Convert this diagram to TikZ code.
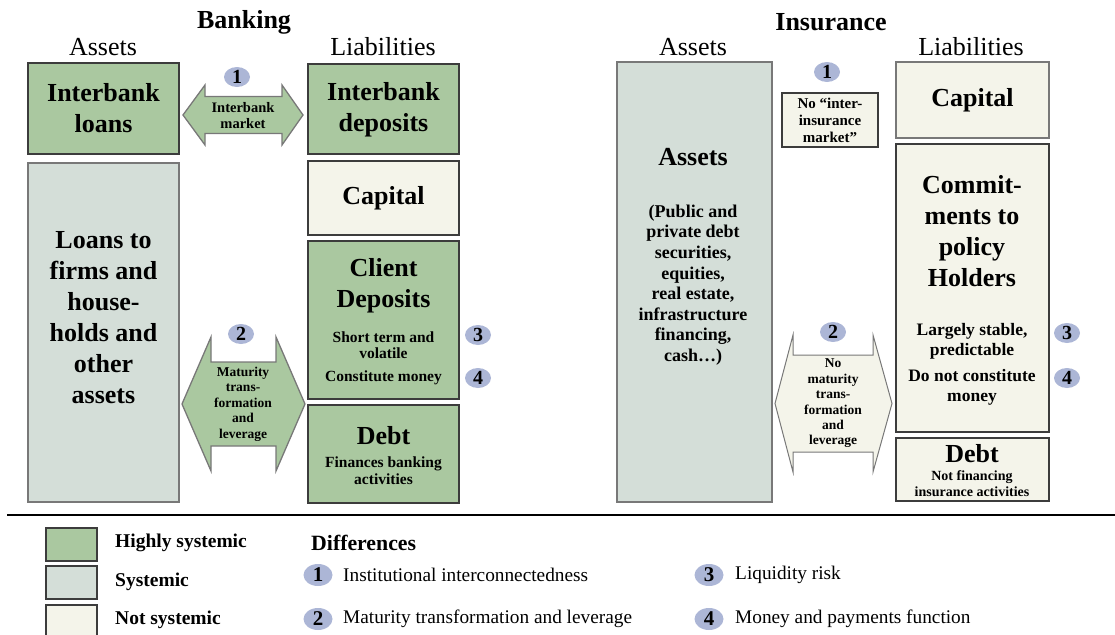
\documentclass[tikz,border=0pt]{standalone}
\usepackage{fontspec}
\setmainfont{Liberation Serif}
\usetikzlibrary{shapes.geometric}

\definecolor{hisysgreen}{RGB}{170,200,160}
\definecolor{sysgray}{RGB}{212,222,216}
\definecolor{nosyscream}{RGB}{244,244,234}
\definecolor{badgeblue}{RGB}{172,182,214}
\definecolor{boxline}{RGB}{60,60,60}
\definecolor{softline}{RGB}{120,120,120}

\tikzset{
  box/.style={draw=boxline, line width=1.3pt, inner sep=0pt},
  hisys/.style={box, fill=hisysgreen},
  sys/.style={box, draw=softline, fill=sysgray},
  nosys/.style={box, fill=nosyscream},
  big/.style={font=\bfseries\fontsize{26}{31}\selectfont, align=center, inner sep=0pt},
  mid/.style={font=\bfseries\fontsize{17.5}{20}\selectfont, align=center, inner sep=0pt},
  small/.style={font=\bfseries\fontsize{15.5}{16.5}\selectfont, align=center, inner sep=0pt},
  tiny/.style={font=\bfseries\fontsize{13.5}{15.4}\selectfont, align=center, inner sep=0pt},
  badge/.style={ellipse, fill=badgeblue, minimum width=26pt, minimum height=20pt,
    inner sep=0pt, font=\bfseries\fontsize{20}{20}\selectfont},
  legbadge/.style={badge, minimum width=29pt, minimum height=22pt,
    font=\bfseries\fontsize{21}{21}\selectfont},
  head/.style={font=\fontsize{26}{26}\selectfont, inner sep=0pt},
  sidetitle/.style={font=\bfseries\fontsize{26}{26}\selectfont, inner sep=0pt},
  legtxt/.style={anchor=west, inner sep=0pt},
  legkey/.style={legtxt, font=\bfseries\fontsize{19.5}{19.5}\selectfont},
  legdiff/.style={legtxt, font=\fontsize{19.3}{19.3}\selectfont},
}

% double headed block arrow: style, left tip, left neck, right neck, right tip, mid y, head half, shaft half
\newcommand{\dblarrow}[8]{
  \draw[#1] (#2,#6) -- (#3,#6-#7) -- (#3,#6-#8) -- (#4,#6-#8) -- (#4,#6-#7) -- (#5,#6)
    -- (#4,#6+#7) -- (#4,#6+#8) -- (#3,#6+#8) -- (#3,#6+#7) -- cycle;
}

\begin{document}
\begin{tikzpicture}[x=1pt,y=-1pt]
  \useasboundingbox (0,0) rectangle (1115,634);

  % ---- banking ----
  \node[sidetitle] (bank) at (244,22) {Banking};
  \node[head] (bassets) at (103,47) {Assets};
  \node[head] (bliab) at (383,47) {Liabilities};

  \node[hisys, minimum width=151pt, minimum height=91pt] (ibl) at (103.5,108.5) {};
  \node[big] (ibltxt) at (ibl) {Interbank\\loans};
  \node[sys, minimum width=151pt, minimum height=339pt] (loans) at (103.5,332.5) {};
  \node[big] (loanstxt) at (103.5,317.5) {Loans to\\firms and\\house-\\holds and\\other\\assets};

  \node[hisys, minimum width=151pt, minimum height=90pt] (ibd) at (383.5,109) {};
  \node[big] (ibdtxt) at (383.5,110) {Interbank\\deposits};
  \node[nosys, minimum width=151pt, minimum height=74pt] (bcap) at (383.5,198) {};
  \node[big] (bcaptxt) at (bcap) {Capital};
  \node[hisys, minimum width=151pt, minimum height=158pt] (cdep) at (383.5,320) {};
  \node[big] (cdeptxt) at (383.5,286) {Client\\Deposits};
  \node[small] (cdepvol) at (383.5,345) {Short term and\\volatile};
  \node[small] (cdepmon) at (383.5,378) {Constitute money};
  \node[hisys, minimum width=151pt, minimum height=98pt] (bdebt) at (383.5,454) {};
  \node[big] (bdebttxt) at (383.5,436) {Debt};
  \node[small] (bdebtsub) at (383.5,470.5) {Finances banking\\activities};

  \dblarrow{hisys, draw=softline}{183}{205}{282}{303}{115}{30}{18.5}
  \node[badge] (b1) at (237,77) {1};
  \node[small, font=\bfseries\fontsize{14.5}{16.5}\selectfont] (mkt) at (243,115.5) {Interbank\\market};

  \dblarrow{hisys, draw=softline}{182}{211}{276}{305}{404}{67}{42}
  \node[badge] (b2) at (241,334) {2};
  \node[tiny] (mat) at (243,404) {Maturity\\trans-\\formation\\and\\leverage};

  \node[badge] (b3) at (478,335) {3};
  \node[badge] (b4) at (478,378) {4};

  % ---- insurance ----
  \node[sidetitle] (ins) at (831,22) {Insurance};
  \node[head] (iassets) at (693,47) {Assets};
  \node[head] (iliab) at (971,47) {Liabilities};

  \node[sys, minimum width=155pt, minimum height=440pt] (assets) at (694.5,282) {};
  \node[big] (assetstxt) at (693,157) {Assets};
  \node[mid, font=\bfseries\fontsize{18}{20.6}\selectfont] (assetssub) at (693,285)
    {(Public and\\private debt\\securities,\\equities,\\real estate,\\infrastructure\\financing,\\cash…)};

  \node[badge] (i1) at (827,72) {1};
  \node[nosys, minimum width=96pt, minimum height=54pt] (noint) at (830,120) {};
  \node[small, font=\bfseries\fontsize{15}{17}\selectfont] (nointtxt) at (noint)
    {No “inter-\\insurance\\market”};

  \node[nosys, draw=softline, minimum width=153pt, minimum height=76pt] (icap) at (972.5,100) {};
  \node[big] (icaptxt) at (icap) {Capital};
  \node[nosys, minimum width=153pt, minimum height=288pt] (commit) at (972.5,288) {};
  \node[big] (committxt) at (972,231.5) {Commit-\\ments to\\policy\\Holders};
  \node[mid] (stable) at (972,341.5) {Largely stable,\\predictable};
  \node[mid] (nomoney) at (972,387) {Do not constitute\\money};
  \node[nosys, minimum width=153pt, minimum height=63pt] (idebt) at (972.5,469.5) {};
  \node[big] (idebttxt) at (972,454) {Debt};
  \node[small, font=\bfseries\fontsize{14}{16}\selectfont] (idebtsub) at (972,484)
    {Not financing\\insurance activities};

  \dblarrow{nosys, draw=softline, line width=1pt}{775}{793}{873}{892}{403.5}{68.5}{48.5}
  \node[badge] (i2) at (833,332) {2};
  \node[tiny] (nomat) at (833,403.5) {No\\maturity\\trans-\\formation\\and\\leverage};

  \node[badge] (i3) at (1067,333) {3};
  \node[badge] (i4) at (1067,378) {4};

  % ---- legend ----
  \draw[line width=2pt] (7,515) -- (1115,515);

  \node[hisys, minimum width=51pt, minimum height=33pt] (lhi) at (71.5,544.5) {};
  \node[sys, draw=boxline, minimum width=51pt, minimum height=33pt] (lsys) at (71.5,582.5) {};
  \node[nosys, minimum width=51pt, minimum height=33pt] (lnot) at (71.5,621.5) {};
  \node[legkey] (lhitxt) at (115,543) {Highly systemic};
  \node[legkey] (lsystxt) at (115,582) {Systemic};
  \node[legkey] (lnottxt) at (115,620) {Not systemic};

  \node[legtxt, font=\bfseries\fontsize{21.8}{21.8}\selectfont] (diff) at (311,543) {Differences};
  \node[legbadge] (d1) at (318,575) {1};
  \node[legbadge] (d2) at (318,619) {2};
  \node[legbadge] (d3) at (709,575) {3};
  \node[legbadge] (d4) at (709,619) {4};
  \node[legdiff] (d1txt) at (343,575) {Institutional interconnectedness};
  \node[legdiff] (d2txt) at (343,619) {Maturity transformation and leverage};
  \node[legdiff] (d3txt) at (735,575) {Liquidity risk};
  \node[legdiff] (d4txt) at (735,619) {Money and payments function};
\end{tikzpicture}
\end{document}
